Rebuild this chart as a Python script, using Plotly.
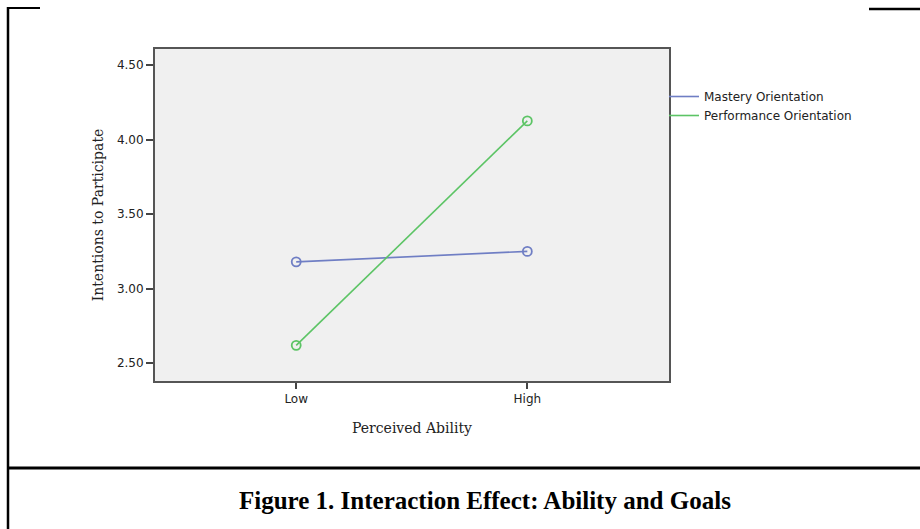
import plotly.graph_objects as go

categories = ["Low", "High"]
mastery = [3.18, 3.25]
performance = [2.62, 4.125]
series_names = ["Mastery Orientation", "Performance Orientation"]
colors = ["#6f7ec4", "#5cc465"]
y_ticks = [2.5, 3.0, 3.5, 4.0, 4.5]
y_tick_labels = ["2.50", "3.00", "3.50", "4.00", "4.50"]

W, H = 920, 529
L, R, T, B = 155, 251, 49, 148
pw, ph = W - L - R, H - T - B

def px(x):
    return (x - L) / pw

def py(y):
    return (H - B - y) / ph

fig = go.Figure()
for name, vals, col in zip(series_names, [mastery, performance], colors):
    fig.add_trace(go.Scatter(x=categories, y=vals, name=name, mode="lines+markers",
                             showlegend=False,
                             line=dict(color=col, width=1.6),
                             marker=dict(symbol="circle-open", size=9, color=col, line=dict(width=1.8))))
for name, col in zip(series_names, colors):
    fig.add_trace(go.Scatter(x=[None], y=[None], name=name, mode="lines",
                             line=dict(color=col, width=1.6)))

fig.update_layout(
    width=W, height=H,
    margin=dict(l=L, r=R, t=T, b=B, pad=0),
    paper_bgcolor="white", plot_bgcolor="#f0f0f0",
    showlegend=True,
    legend=dict(x=px(664), y=py(82), xanchor="left", yanchor="top",
                font=dict(family="DejaVu Sans", size=12, color="#222"),
                bgcolor="rgba(0,0,0,0)", tracegroupgap=0, itemwidth=30,
                traceorder="normal"),
    xaxis=dict(type="category", range=[-0.611, 1.613], showgrid=False, zeroline=False,
               showline=True, linecolor="#555", linewidth=2, mirror=True,
               ticks="outside", ticklen=6, tickcolor="#444", tickwidth=1.5,
               tickfont=dict(family="DejaVu Sans", size=12, color="#222"),
               title=dict(text="Perceived Ability", standoff=18,
                          font=dict(family="DejaVu Serif", size=14, color="#222"))),
    yaxis=dict(range=[2.381, 4.607], tickvals=y_ticks, ticktext=y_tick_labels,
               showgrid=False, zeroline=False,
               showline=True, linecolor="#555", linewidth=2, mirror=True,
               ticks="outside", ticklen=7, tickcolor="#444", tickwidth=1.5,
               tickfont=dict(family="DejaVu Sans", size=12, color="#222"),
               title=dict(text="Intentions to Participate", standoff=10,
                          font=dict(family="DejaVu Serif", size=14, color="#222"))),
    font=dict(family="DejaVu Sans"),
)

shapes = [
    dict(x0=px(8), x1=px(8), y0=py(7), y1=py(529), width=2.5),
    dict(x0=px(7), x1=px(40), y0=py(8), y1=py(8), width=2),
    dict(x0=px(869), x1=px(920), y0=py(9), y1=py(9), width=2.5),
    dict(x0=px(7), x1=px(920), y0=py(468), y1=py(468), width=3),
]
for s in shapes:
    fig.add_shape(type="line", xref="paper", yref="paper", x0=s["x0"], x1=s["x1"],
                  y0=s["y0"], y1=s["y1"], line=dict(color="black", width=s["width"]))

fig.add_annotation(text="<b>Figure 1. Interaction Effect: Ability and Goals</b>",
                   xref="paper", yref="paper", x=px(485), y=py(500), xanchor="center", yanchor="middle",
                   showarrow=False, font=dict(family="Liberation Serif, Times New Roman", size=25, color="black"))

fig.write_html("out.html", config={"displayModeBar": False},
               post_script="document.body.style.margin='0';document.body.style.overflow='hidden';")
